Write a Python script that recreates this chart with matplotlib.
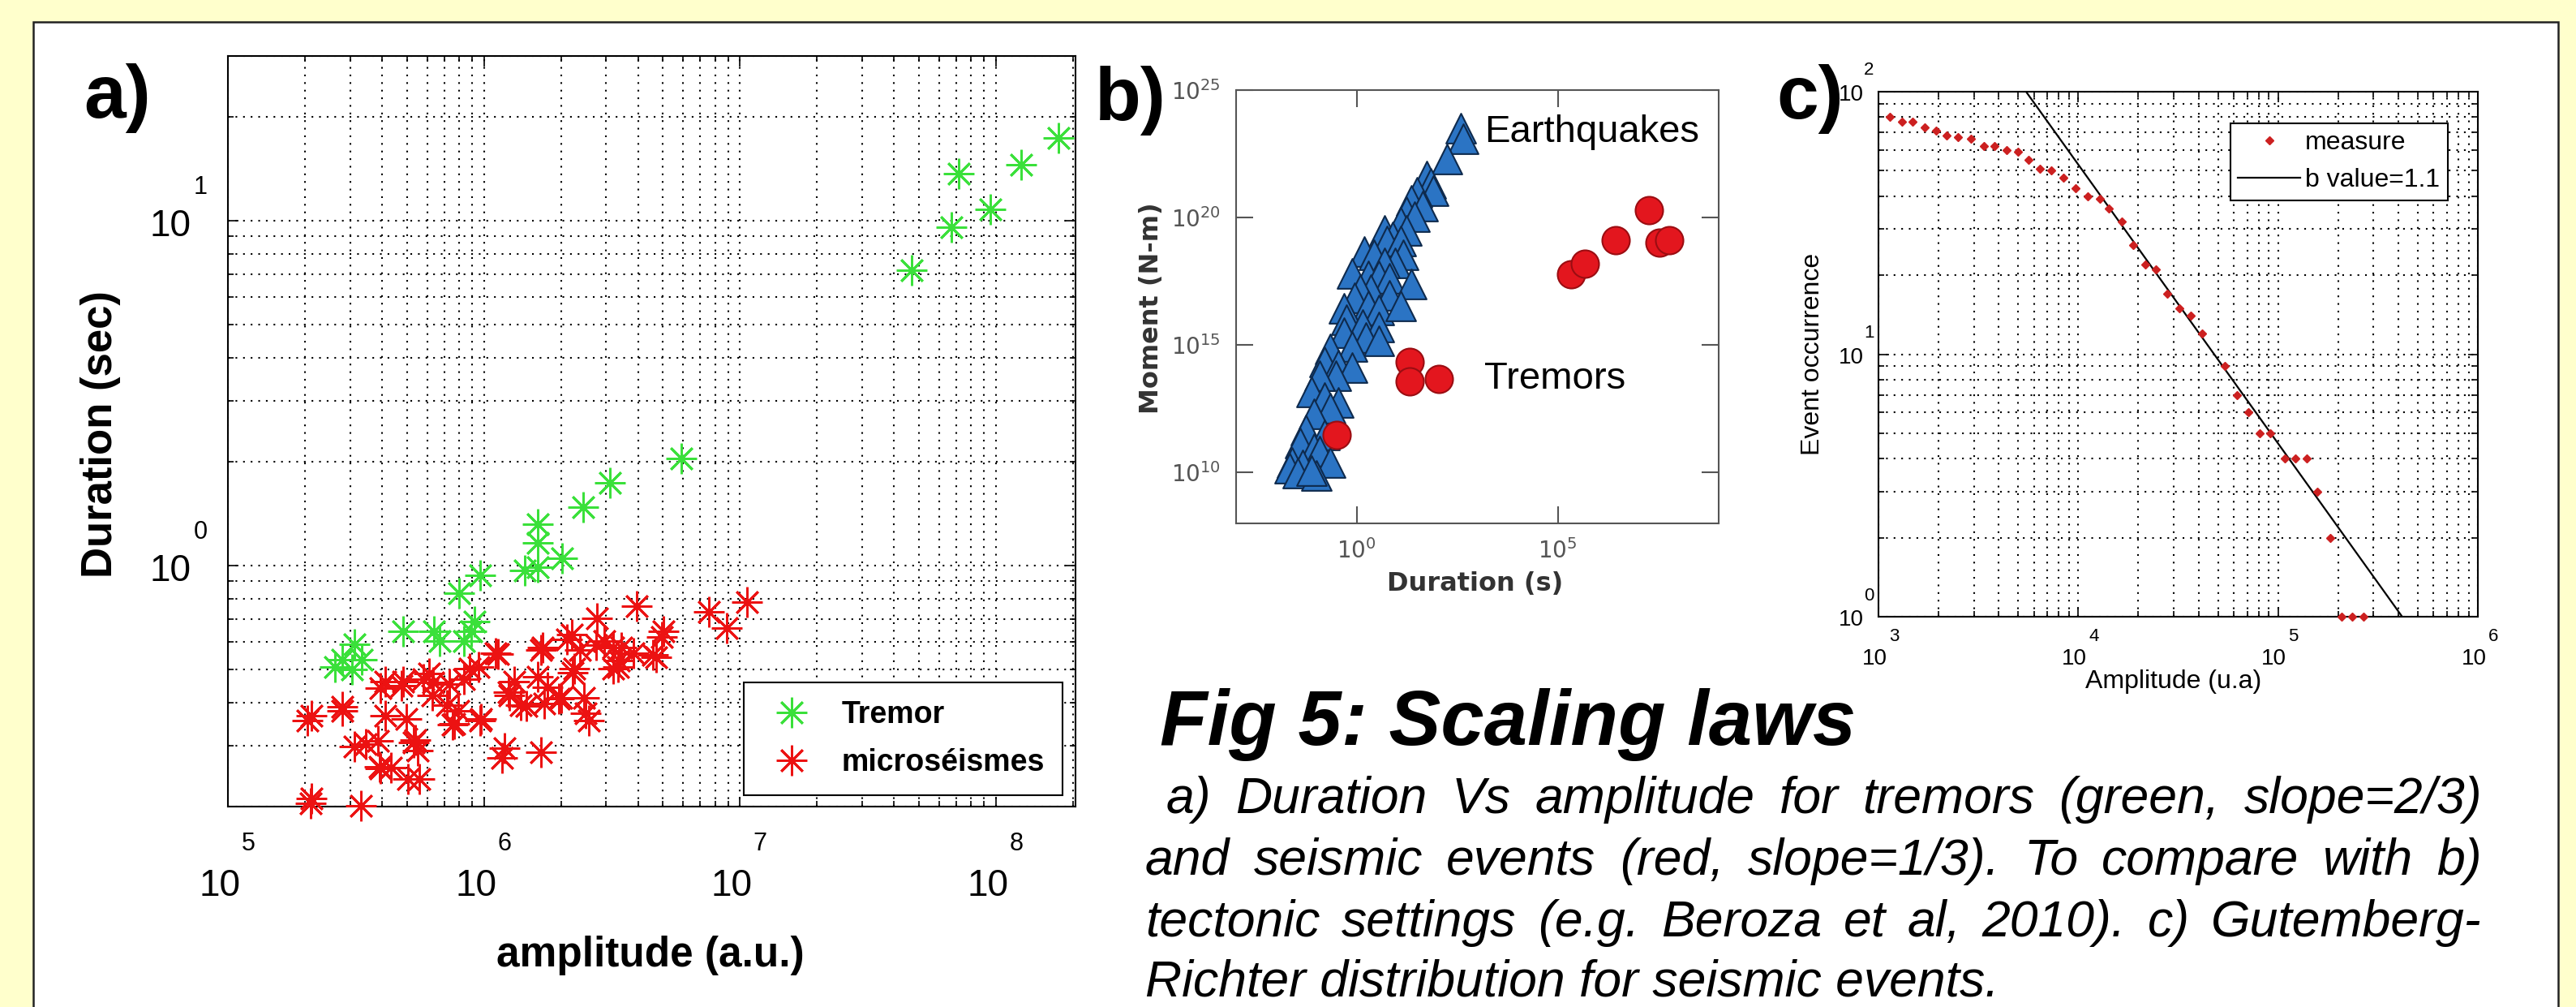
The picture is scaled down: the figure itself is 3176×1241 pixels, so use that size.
import matplotlib
matplotlib.use('Agg')
import matplotlib.pyplot as plt
from matplotlib.patches import Rectangle
from matplotlib.lines import Line2D
from matplotlib.ticker import LogLocator, NullFormatter, NullLocator
import numpy as np

W, H = 3176, 1241
plt.rcParams['font.family'] = ['Liberation Sans', 'DejaVu Sans']
plt.rcParams['mathtext.fontset'] = 'dejavusans'

# ---------------- a) duration vs amplitude
tremor_amp = [1.76e8, 1.26e8, 7.16e7, 9.51e7, 6.73e7, 4.70e7, 5.89e6, 3.10e6, 2.44e6, 1.63e6,
              1.63e6, 1.45e6, 1.63e6, 2.02e6, 9.68e5, 7.98e5, 4.82e5, 6.40e5, 6.73e5, 8.93e5,
              8.38e5, 9.20e5, 3.13e5, 2.62e5, 3.06e5, 3.33e5, 2.79e5]
tremor_dur = [17.4, 14.5, 13.7, 10.8, 9.57, 7.18, 2.04, 1.74, 1.48, 1.32,
              1.16, 0.966, 0.986, 1.05, 0.938, 0.832, 0.644, 0.644, 0.604, 0.644,
              0.604, 0.687, 0.592, 0.509, 0.499, 0.532, 0.532]

micro_amp = [2.04e5, 2.12e5, 2.10e5, 2.12e5, 2.79e5, 2.79e5, 3.13e5, 3.30e5, 3.47e5, 3.85e5,
             3.90e5, 3.94e5, 4.33e5, 3.94e5, 4.11e5, 4.11e5, 4.85e5, 4.76e5, 4.98e5, 5.05e5,
             5.60e5, 5.32e5, 5.52e5, 5.40e5, 5.82e5, 6.12e5, 6.28e5, 6.32e5, 7.16e5, 7.33e5,
             7.53e5, 7.64e5, 7.93e5, 8.36e5, 8.79e5, 9.51e5, 9.68e5, 9.75e5, 1.11e6, 1.14e6,
             1.18e6, 1.20e6, 1.25e6, 1.26e6, 1.31e6, 1.39e6, 1.47e6, 1.63e6, 1.67e6, 1.67e6,
             1.70e6, 1.72e6, 1.77e6, 1.96e6, 2.01e6, 2.11e6, 2.20e6, 2.22e6, 2.25e6, 2.37e6,
             2.47e6, 2.50e6, 2.57e6, 2.74e6, 2.77e6, 2.95e6, 3.19e6, 3.19e6, 3.35e6, 3.37e6,
             3.45e6, 3.83e6, 3.96e6, 4.58e6, 4.73e6, 4.95e6, 5.04e6, 7.59e6, 8.87e6, 1.07e7]
micro_dur = [0.355, 0.366, 0.204, 0.211, 0.389, 0.378, 0.298, 0.201, 0.303, 0.311,
             0.261, 0.258, 0.259, 0.440, 0.366, 0.460, 0.460, 0.449, 0.359, 0.241,
             0.241, 0.306, 0.290, 0.312, 0.468, 0.485, 0.421, 0.458, 0.394, 0.452,
             0.346, 0.348, 0.378, 0.468, 0.502, 0.509, 0.355, 0.359, 0.558, 0.555,
             0.277, 0.295, 0.430, 0.421, 0.460, 0.394, 0.392, 0.476, 0.568, 0.288,
             0.579, 0.399, 0.444, 0.412, 0.413, 0.611, 0.631, 0.489, 0.502, 0.568,
             0.413, 0.372, 0.355, 0.589, 0.701, 0.604, 0.579, 0.502, 0.509, 0.530,
             0.579, 0.558, 0.764, 0.550, 0.543, 0.621, 0.644, 0.733, 0.659, 0.782]

# ---------------- b) moment vs duration (Beroza et al.)
eq_dur = [380, 447, 174, 53.7, 69.2, 79.4, 31.6, 22.9, 42.7, 17.0,
          26.9, 12.3, 4.9, 7.8, 17.0, 5.75, 12.3, 1.51, 2.63, 14.5,
          9.1, 4.9, 0.76, 1.9, 3.5, 6.6, 22.9, 2.24, 1.2, 6.6,
          0.89, 1.9, 3.5, 12.3, 0.48, 0.55, 1.41, 3.5, 0.48, 1.66,
          3.5, 0.76, 0.22, 0.16, 0.35, 0.76, 0.30, 0.12, 0.074, 0.16,
          0.35, 0.22, 0.085, 0.054, 0.16, 0.040, 0.085, 0.12, 0.025, 0.046,
          0.22, 0.021, 0.034, 0.10, 0.074]
eq_mom = [3.3e23, 1.26e23, 2.0e22, 4.2e21, 2.2e21, 1.1e21, 9.5e20, 4.7e20, 2.9e20, 1.7e20,
          1.07e20, 6.6e19, 3.2e19, 1.7e19, 3.2e19, 1.2e19, 1.2e19, 4.6e18, 3.5e18, 3.5e18,
          1.7e18, 1.7e18, 6.5e17, 5.0e17, 5.0e17, 4.0e17, 2.5e17, 1.5e17, 1.5e17, 9.1e16,
          7.2e16, 3.5e16, 2.4e16, 3.5e16, 2.7e16, 1.0e16, 6.3e15, 4.9e15, 3.0e15, 1.9e15,
          1.45e15, 8.9e14, 7.1e14, 2.1e14, 1.6e14, 1.3e14, 6.2e13, 6.2e13, 1.4e13, 8.7e12,
          5.4e12, 3.3e12, 2.0e12, 4.7e11, 2.9e11, 1.4e11, 8.5e10, 6.6e10, 2.5e10, 2.0e10,
          2.5e10, 1.5e10, 9.5e9, 7.4e9, 1.2e10]
trem_dur = [0.31, 20.9, 20.9, 110, 2.1e5, 4.8e5, 2.8e6, 1.86e7, 3.3e7, 6.0e7]
trem_mom = [3.0e11, 2.1e14, 3.8e13, 4.8e13, 6.0e17, 1.55e18, 1.3e19, 2.0e20, 1.07e19, 1.3e19]

# ---------------- c) Gutenberg-Richter
gr_amp = [1135, 1306, 1486, 1706, 1941, 2203, 2506, 2897, 3357, 3811,
          4385, 4977, 5662, 6427, 7311, 8395, 9727, 11190, 12790, 14260,
          16520, 18750, 21580, 24490, 27860, 32210, 36640, 41590, 54330, 62520,
          71120, 80720, 91620, 107650, 122180, 138680, 157760, 182390, 207490, 235500,
          267300]
gr_count = [80, 77, 77, 73, 71, 68, 67, 66, 62, 62,
            60, 59, 55, 51, 50, 47, 43, 40, 39, 36,
            32, 26, 22, 21, 17, 15, 14, 12, 9, 7,
            6, 5, 5, 4, 4, 4, 3, 2, 1, 1,
            1]
bline_amp = [5480, 4.18e5]
bline_count = [100, 1]

title = 'Fig 5: Scaling laws'
caption = ['a) Duration Vs amplitude for tremors (green, slope=2/3)',
           'and seismic events (red, slope=1/3). To compare with b)',
           'tectonic settings (e.g. Beroza et al, 2010). c) Gutemberg-',
           'Richter distribution for seismic events.']

fig = plt.figure(figsize=(W / 100, H / 100), dpi=100, facecolor='#ffffcc')
renderer = fig.canvas.get_renderer()


def px_axes(x0, y0, x1, y1):
    # pixel box (from top-left) -> figure fraction
    return fig.add_axes([x0 / W, 1 - y1 / H, (x1 - x0) / W, (y1 - y0) / H])


def ftext(x, y, s, **kw):
    return fig.text(x / W, 1 - y / H, s, **kw)


def justify(line, x0, x1, y, **kw):
    # poster text is justified: spread the words between x0 and x1
    words = line.split()
    arts = [ftext(x0, y, w, **kw) for w in words]
    widths = [a.get_window_extent(renderer).width for a in arts]
    gap = (x1 - x0 - sum(widths)) / (len(words) - 1)
    x = x0
    for a, w in zip(arts, widths):
        a.set_x(x / W)
        x += w + gap


def log_labels(ax, xt, yt, size, esize, x10, xexp, y10, yexp):
    # matlab style "10" + raised exponent
    for t in xt:
        e = str(int(round(np.log10(t))))
        ax.annotate('10', (t, 0), xycoords=('data', 'axes fraction'), xytext=x10,
                    textcoords='offset pixels', ha='center', va='center', fontsize=size,
                    annotation_clip=False)
        ax.annotate(e, (t, 0), xycoords=('data', 'axes fraction'), xytext=xexp,
                    textcoords='offset pixels', ha='center', va='center', fontsize=esize,
                    annotation_clip=False)
    for t in yt:
        e = str(int(round(np.log10(t))))
        ax.annotate('10', (0, t), xycoords=('axes fraction', 'data'), xytext=y10,
                    textcoords='offset pixels', ha='center', va='center', fontsize=size,
                    annotation_clip=False)
        ax.annotate(e, (0, t), xycoords=('axes fraction', 'data'), xytext=yexp,
                    textcoords='offset pixels', ha='center', va='center', fontsize=esize,
                    annotation_clip=False)


def matlab_axes(ax):
    ax.set_xscale('log')
    ax.set_yscale('log')
    for axis in (ax.xaxis, ax.yaxis):
        axis.set_minor_locator(LogLocator(base=10, subs=np.arange(2, 10)))
        axis.set_major_formatter(NullFormatter())
        axis.set_minor_formatter(NullFormatter())
    ax.tick_params(which='both', direction='in', top=True, right=True, width=1.2)
    ax.tick_params(which='major', length=9)
    ax.tick_params(which='minor', length=5)
    ax.grid(True, which='both', color='black', lw=1.5, ls=(0, (1, 3.5)))
    for s in ax.spines.values():
        s.set_linewidth(1.5)


# white poster panel
fig.add_artist(Rectangle((41 / W, -0.05), (3154 - 41) / W, 1.05 - 27 / H,
                         transform=fig.transFigure, facecolor='white',
                         edgecolor='#222222', lw=1.8, zorder=-1))

# ======== a)
green = '#3ae03a'
red = '#ec1212'
star = (8, 2, 0)
axa = px_axes(281, 69, 1326, 994)
matlab_axes(axa)
axa.plot(micro_amp, micro_dur, ls='none', marker=star, ms=27, mew=2.0,
         color=red, clip_on=False, zorder=3)
axa.plot(tremor_amp, tremor_dur, ls='none', marker=star, ms=27, mew=2.0,
         color=green, clip_on=False, zorder=4)
axa.set_xlim(1e5, 2.05e8)
axa.set_ylim(0.2, 30)
axa.set_xticks([1e5, 1e6, 1e7, 1e8])
axa.set_yticks([1, 10])
log_labels(axa, [1e5, 1e6, 1e7, 1e8], [1, 10], 33, 22,
           (-10, -98), (25, -46), (-71, -7), (-34, 41))
axa.set_xlabel('amplitude (a.u.)', fontsize=37, fontweight='bold')
axa.set_ylabel('Duration (sec)', fontsize=38, fontweight='bold')
axa.xaxis.label.set_va('center')
axa.yaxis.label.set_va('center')
axa.xaxis.set_label_coords(0.498, -0.198)
axa.yaxis.set_label_coords(-0.150, 0.496)
h1 = Line2D([], [], ls='none', marker=star, ms=27, mew=2.0, color=green)
h2 = Line2D([], [], ls='none', marker=star, ms=27, mew=2.0, color=red)
leg = axa.legend([h1, h2], ['Tremor', 'microséismes'], loc='lower right',
                 bbox_to_anchor=(0.985, 0.015), prop={'weight': 'bold', 'size': 27},
                 fancybox=False, edgecolor='black', framealpha=1, borderpad=0.6,
                 handlelength=1.9, handletextpad=0.7, labelspacing=0.6, borderaxespad=0)
leg.get_frame().set_linewidth(1.5)
leg.set_zorder(6)

# ======== b)
axb = px_axes(1524, 111, 2119, 645)
axb.set_xscale('log')
axb.set_yscale('log')
axb.scatter(eq_dur, eq_mom, marker='^', s=700, c='#2b74c4', edgecolors='#0e2a4d',
            linewidths=1.5, zorder=3)
axb.scatter(trem_dur, trem_mom, marker='o', s=600, c='#e3161e', edgecolors='#9b0d12',
            linewidths=1.5, zorder=4)
axb.set_xlim(1e-3, 1e9)
axb.set_ylim(1e8, 1e25)
axb.set_xticks([1, 1e5])
axb.set_xticklabels(['$10^{0}$', '$10^{5}$'])
axb.set_yticks([1e10, 1e15, 1e20, 1e25])
axb.set_yticklabels(['$10^{10}$', '$10^{15}$', '$10^{20}$', '$10^{25}$'])
axb.xaxis.set_minor_locator(NullLocator())
axb.yaxis.set_minor_locator(NullLocator())
axb.tick_params(direction='in', length=15, width=1.5, color='#555555', labelcolor='#555555',
                labelsize=20, top=True, right=True, pad=14)
for s in axb.spines.values():
    s.set_color('#555555')
    s.set_linewidth(1.5)
axb.set_xlabel('Duration (s)', fontsize=23, fontweight='bold', color='#333333', family='DejaVu Sans')
axb.set_ylabel('Moment (N-m)', fontsize=23, fontweight='bold', color='#333333', family='DejaVu Sans')
axb.xaxis.label.set_va('center')
axb.yaxis.label.set_va('center')
axb.xaxis.set_label_coords(0.496, -0.139)
axb.yaxis.set_label_coords(-0.175, 0.496)
ftext(1830, 163, 'Earthquakes', fontsize=34, va='center')
ftext(1830, 467, 'Tremors', fontsize=34, va='center')

# ======== c)
axc = px_axes(2316, 113, 3055, 760)
matlab_axes(axc)
axc.plot(gr_amp, gr_count, ls='none', marker='D', ms=5.5, color='#cc2020', label='measure',
         clip_on=False, zorder=4)
axc.plot(bline_amp, bline_count, color='black', lw=1.6, label='b value=1.1', zorder=3)
axc.set_xlim(1e3, 1e6)
axc.set_ylim(1, 100)
axc.set_xticks([1e3, 1e4, 1e5, 1e6])
axc.set_yticks([1, 10, 100])
log_labels(axc, [1e3, 1e4, 1e5, 1e6], [1, 10, 100], 20, 16,
           (-5, -52), (19, -24), (-34, -4), (-12, 26))
axc.set_xlabel('Amplitude (u.a)', fontsize=23)
axc.set_ylabel('Event occurrence', fontsize=23)
axc.xaxis.label.set_va('center')
axc.yaxis.label.set_va('center')
axc.xaxis.set_label_coords(0.492, -0.124)
axc.yaxis.set_label_coords(-0.110, 0.5)
legc = axc.legend(loc='upper right', bbox_to_anchor=(0.950, 0.940), fontsize=23,
                  fancybox=False, edgecolor='black', framealpha=1, borderpad=0.3,
                  handlelength=2.4, handletextpad=0.2, labelspacing=0.5, borderaxespad=0)
legc.get_frame().set_linewidth(1.5)

# panel letters
ftext(103, 145, 'a)', fontsize=67, fontweight='bold', va='baseline')
ftext(1350, 148, 'b)', fontsize=67, fontweight='bold', va='baseline')
ftext(2190, 146, 'c)', fontsize=67, fontweight='bold', va='baseline')

# caption
ftext(1430, 918, title, fontsize=69, fontweight='bold', style='italic', va='baseline')
cap_kw = dict(fontsize=45, style='italic', va='baseline')
justify(caption[0], 1438, 3060, 1002, **cap_kw)
justify(caption[1], 1412, 3060, 1078, **cap_kw)
justify(caption[2], 1412, 3060, 1154, **cap_kw)
ftext(1412, 1228, caption[3], **cap_kw)

fig.savefig('out.png', dpi=100, facecolor=fig.get_facecolor())
